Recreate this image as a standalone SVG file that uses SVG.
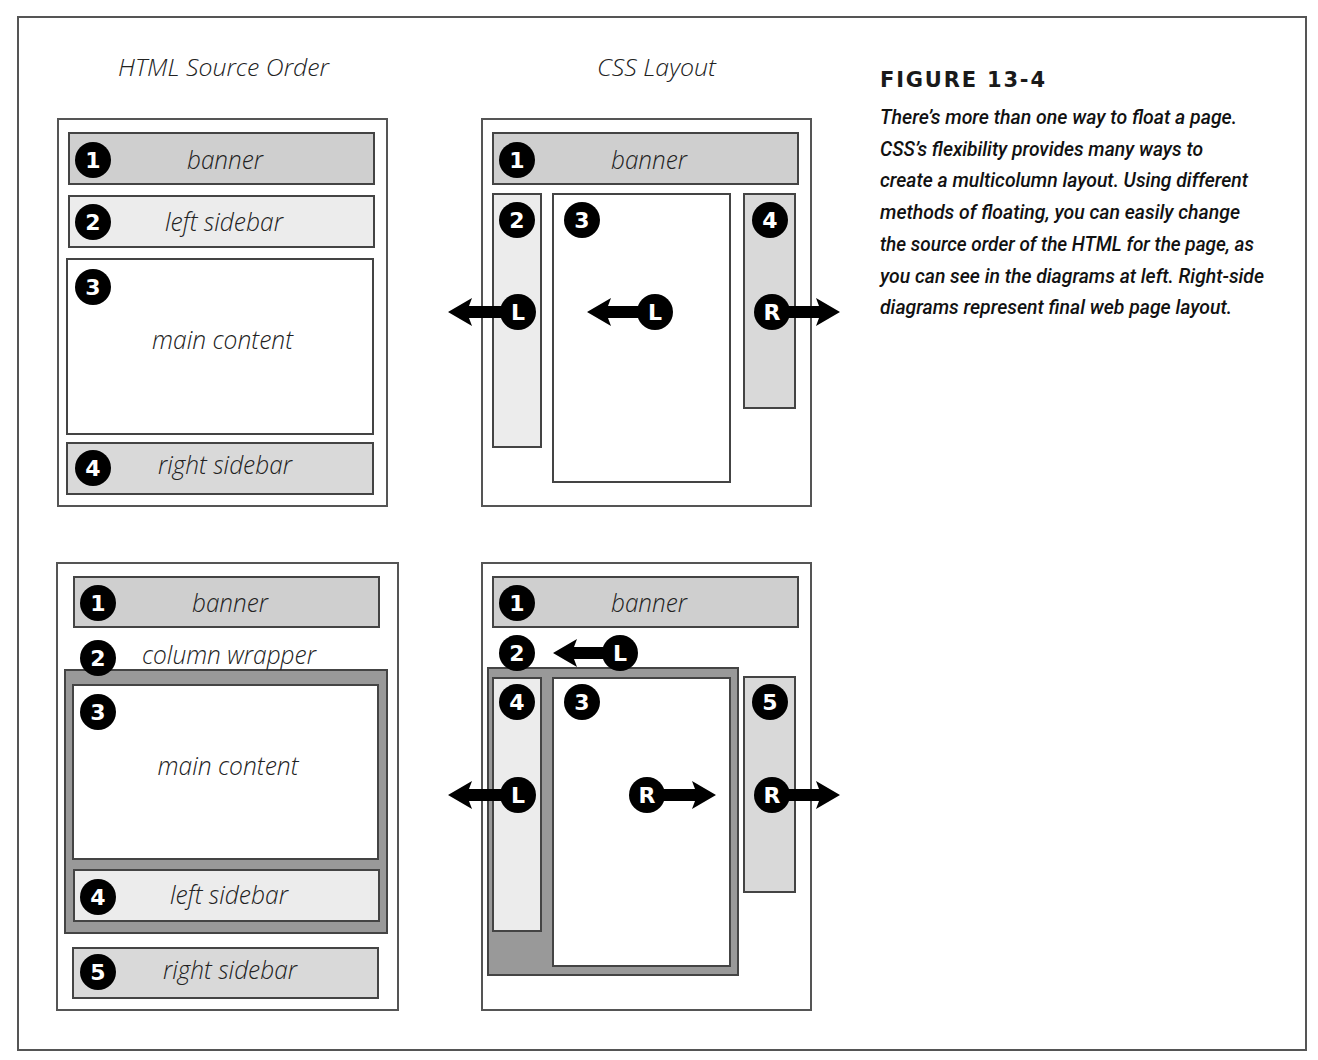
<svg xmlns="http://www.w3.org/2000/svg" width="1318" height="1060" viewBox="0 0 1318 1060">
<style>
  .frame{fill:#fff;stroke:#555;stroke-width:2}
  .page{fill:#fff;stroke:#555;stroke-width:2}
  .box{stroke:#444;stroke-width:2}
  .banner{fill:#cfcfcf}
  .lside{fill:#ececec}
  .rside{fill:#d9d9d9}
  .main{fill:#fff}
  .wrap{fill:#999;stroke:#444;stroke-width:2}
  .lbl{font-family:"Open Sans","Lato","DejaVu Sans",sans-serif;font-style:italic;font-weight:300;font-size:26px;fill:#222;text-anchor:middle}
  .head{font-family:"Open Sans","Lato","DejaVu Sans",sans-serif;font-style:italic;font-weight:300;font-size:23px;fill:#222;text-anchor:middle}
  .badge circle{fill:#000}
  .badge text{font-family:"DejaVu Sans","Liberation Sans",sans-serif;font-weight:bold;font-size:22px;fill:#fff;text-anchor:middle}
  .arrow{fill:#000}
  .fig{font-family:"DejaVu Sans","Liberation Sans",sans-serif;font-weight:bold;font-size:21px;fill:#1a1a1a}
  .cap{font-family:"Liberation Sans Narrow","Roboto","Liberation Sans",sans-serif;font-style:italic;font-weight:500;font-size:21px;fill:#111}
</style>

<rect class="frame" x="18" y="17" width="1288" height="1033"/>

<g id="headings">
  <text class="head" x="223.5" y="76" textLength="211" lengthAdjust="spacingAndGlyphs">HTML Source Order</text>
  <text class="head" x="656.5" y="76" textLength="119" lengthAdjust="spacingAndGlyphs">CSS Layout</text>
</g>

<g id="caption">
  <text class="fig" x="880" y="87" textLength="165" lengthAdjust="spacing">FIGURE 13-4</text>
  <text class="cap" x="880" y="124" textLength="357" lengthAdjust="spacingAndGlyphs">There’s more than one way to float a page.</text>
  <text class="cap" x="880" y="155.7" textLength="323" lengthAdjust="spacingAndGlyphs">CSS’s flexibility provides many ways to</text>
  <text class="cap" x="880" y="187.4" textLength="368" lengthAdjust="spacingAndGlyphs">create a multicolumn layout. Using different</text>
  <text class="cap" x="880" y="219.1" textLength="360" lengthAdjust="spacingAndGlyphs">methods of floating, you can easily change</text>
  <text class="cap" x="880" y="250.8" textLength="374" lengthAdjust="spacingAndGlyphs">the source order of the HTML for the page, as</text>
  <text class="cap" x="880" y="282.5" textLength="384" lengthAdjust="spacingAndGlyphs">you can see in the diagrams at left. Right-side</text>
  <text class="cap" x="880" y="314.2" textLength="352" lengthAdjust="spacingAndGlyphs">diagrams represent final web page layout.</text>
</g>

<!-- Top-left: HTML source order -->
<g id="tl-page">
  <rect class="page" x="58" y="119" width="329" height="387"/>
</g>
<g id="tl-banner">
  <rect class="box banner" x="69" y="133" width="305" height="51"/>
  <text class="lbl" x="225" y="169" textLength="76" lengthAdjust="spacingAndGlyphs">banner</text>
  <g class="badge" transform="translate(93,160)"><circle r="18"/><text y="8">1</text></g>
</g>
<g id="tl-left">
  <rect class="box lside" x="69" y="196" width="305" height="51"/>
  <text class="lbl" x="224" y="231" textLength="118" lengthAdjust="spacingAndGlyphs">left sidebar</text>
  <g class="badge" transform="translate(93,222)"><circle r="18"/><text y="8">2</text></g>
</g>
<g id="tl-main">
  <rect class="box main" x="67" y="259" width="306" height="175"/>
  <text class="lbl" x="222.5" y="349" textLength="141" lengthAdjust="spacingAndGlyphs">main content</text>
  <g class="badge" transform="translate(93,287)"><circle r="18"/><text y="8">3</text></g>
</g>
<g id="tl-right">
  <rect class="box rside" x="67" y="443" width="306" height="51"/>
  <text class="lbl" x="225" y="474" textLength="134" lengthAdjust="spacingAndGlyphs">right sidebar</text>
  <g class="badge" transform="translate(93,468)"><circle r="18"/><text y="8">4</text></g>
</g>

<!-- Top-right: CSS layout -->
<g id="tr-page">
  <rect class="page" x="482" y="119" width="329" height="387"/>
</g>
<g id="tr-banner">
  <rect class="box banner" x="493" y="133" width="305" height="51"/>
  <text class="lbl" x="649" y="169" textLength="76" lengthAdjust="spacingAndGlyphs">banner</text>
  <g class="badge" transform="translate(517,160)"><circle r="18"/><text y="8">1</text></g>
</g>
<g id="tr-left">
  <rect class="box lside" x="493" y="194" width="48" height="253"/>
</g>
<g id="tr-main">
  <rect class="box main" x="553" y="194" width="177" height="288"/>
</g>
<g id="tr-right">
  <rect class="box rside" x="744" y="194" width="51" height="214"/>
</g>

<!-- Bottom-left: HTML source order -->
<g id="bl-page">
  <rect class="page" x="57" y="563" width="341" height="447"/>
</g>
<g id="bl-banner">
  <rect class="box banner" x="74" y="577" width="305" height="50"/>
  <text class="lbl" x="230" y="612" textLength="76" lengthAdjust="spacingAndGlyphs">banner</text>
  <g class="badge" transform="translate(98,603)"><circle r="18"/><text y="8">1</text></g>
</g>
<g id="bl-wrapper">
  <rect class="wrap" x="65" y="670" width="322" height="263"/>
  <text class="lbl" x="229" y="664" textLength="174" lengthAdjust="spacingAndGlyphs">column wrapper</text>
</g>
<g id="bl-main">
  <rect class="box main" x="73" y="685" width="305" height="174"/>
  <text class="lbl" x="228" y="775" textLength="141" lengthAdjust="spacingAndGlyphs">main content</text>
</g>
<g id="bl-left">
  <rect class="box lside" x="74" y="870" width="305" height="51"/>
  <text class="lbl" x="229" y="904" textLength="118" lengthAdjust="spacingAndGlyphs">left sidebar</text>
</g>
<g id="bl-right">
  <rect class="box rside" x="73" y="948" width="305" height="50"/>
  <text class="lbl" x="230" y="979" textLength="134" lengthAdjust="spacingAndGlyphs">right sidebar</text>
  <g class="badge" transform="translate(98,972)"><circle r="18"/><text y="8">5</text></g>
</g>
<g id="bl-badges">
  <g class="badge" transform="translate(98,658)"><circle r="18"/><text y="8">2</text></g>
  <g class="badge" transform="translate(98,712)"><circle r="18"/><text y="8">3</text></g>
  <g class="badge" transform="translate(98,897)"><circle r="18"/><text y="8">4</text></g>
</g>

<!-- Bottom-right: CSS layout -->
<g id="br-page">
  <rect class="page" x="482" y="563" width="329" height="447"/>
</g>
<g id="br-banner">
  <rect class="box banner" x="493" y="577" width="305" height="50"/>
  <text class="lbl" x="649" y="612" textLength="76" lengthAdjust="spacingAndGlyphs">banner</text>
  <g class="badge" transform="translate(517,603)"><circle r="18"/><text y="8">1</text></g>
</g>
<g id="br-wrapper">
  <rect class="wrap" x="488" y="668" width="250" height="307"/>
</g>
<g id="br-left">
  <rect class="box lside" x="493" y="678" width="48" height="253"/>
</g>
<g id="br-main">
  <rect class="box main" x="553" y="678" width="177" height="288"/>
</g>
<g id="br-right">
  <rect class="box rside" x="744" y="677" width="51" height="215"/>
</g>

<!-- connectors: float arrows -->
<g id="connectors">
  <path class="arrow" d="M518,306 L469,306 L472,298 L448,312 L472,326 L469,318 L518,318 Z"/>
  <path class="arrow" d="M655,306 L608,306 L611,298 L587,312 L611,326 L608,318 L655,318 Z"/>
  <path class="arrow" d="M772,306 L819,306 L816,298 L840,312 L816,326 L819,318 L772,318 Z"/>
  <path class="arrow" d="M620,647 L574,647 L577,639 L553,653 L577,667 L574,659 L620,659 Z"/>
  <path class="arrow" d="M518,789 L469,789 L472,781 L448,795 L472,809 L469,801 L518,801 Z"/>
  <path class="arrow" d="M647,789 L695,789 L692,781 L716,795 L692,809 L695,801 L647,801 Z"/>
  <path class="arrow" d="M772,789 L819,789 L816,781 L840,795 L816,809 L819,801 L772,801 Z"/>
</g>

<g id="tr-badges">
  <g class="badge" transform="translate(517,220)"><circle r="18"/><text y="8">2</text></g>
  <g class="badge" transform="translate(582,220)"><circle r="18"/><text y="8">3</text></g>
  <g class="badge" transform="translate(770,220)"><circle r="18"/><text y="8">4</text></g>
  <g class="badge" transform="translate(518,312)"><circle r="18"/><text y="8">L</text></g>
  <g class="badge" transform="translate(655,312)"><circle r="18"/><text y="8">L</text></g>
  <g class="badge" transform="translate(772,312)"><circle r="18"/><text y="8">R</text></g>
</g>
<g id="br-badges">
  <g class="badge" transform="translate(517,653)"><circle r="18"/><text y="8">2</text></g>
  <g class="badge" transform="translate(620,653)"><circle r="18"/><text y="8">L</text></g>
  <g class="badge" transform="translate(517,702)"><circle r="18"/><text y="8">4</text></g>
  <g class="badge" transform="translate(582,702)"><circle r="18"/><text y="8">3</text></g>
  <g class="badge" transform="translate(770,702)"><circle r="18"/><text y="8">5</text></g>
  <g class="badge" transform="translate(518,795)"><circle r="18"/><text y="8">L</text></g>
  <g class="badge" transform="translate(647,795)"><circle r="18"/><text y="8">R</text></g>
  <g class="badge" transform="translate(772,795)"><circle r="18"/><text y="8">R</text></g>
</g>
</svg>
